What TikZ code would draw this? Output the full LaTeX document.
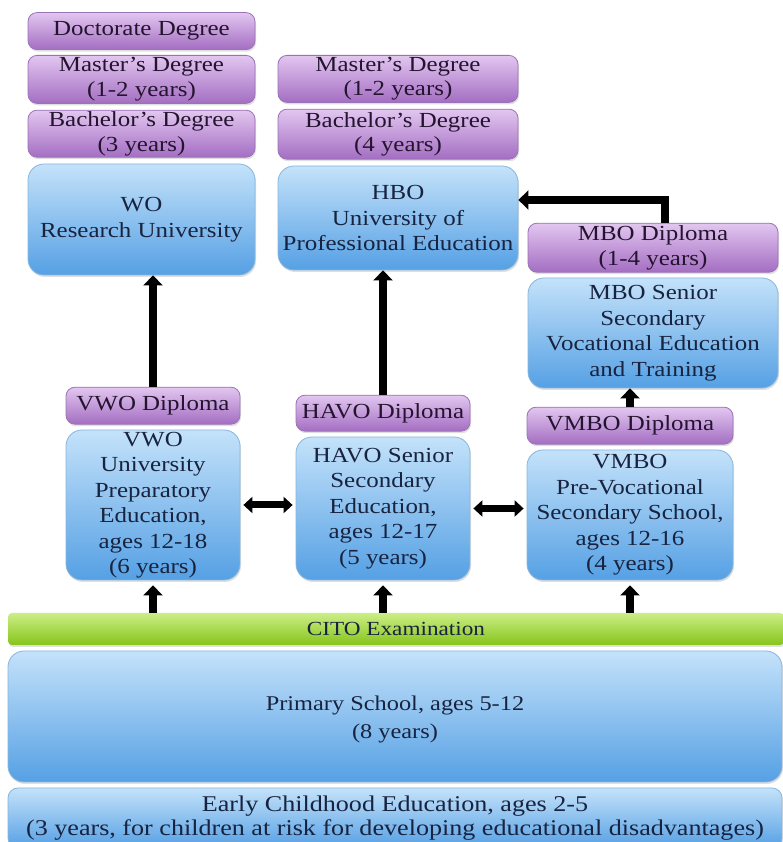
\documentclass[tikz,border=0pt]{standalone}
\usepackage{fontspec}
\setmainfont[FakeStretch=1.16]{Liberation Serif}
\usetikzlibrary{arrows.meta,positioning,shadows}

\definecolor{blueTop}{HTML}{C4E2FA}
\definecolor{blueBot}{HTML}{55A0E4}
\definecolor{blueLine}{HTML}{86B6DE}
\definecolor{purpTop}{HTML}{E2C6F0}
\definecolor{purpBot}{HTML}{A46EC2}
\definecolor{purpLine}{HTML}{9A72B6}
\definecolor{greenTop}{HTML}{CCEE86}
\definecolor{greenBot}{HTML}{86C41A}
\definecolor{inkBlue}{HTML}{18233F}
\definecolor{inkPurp}{HTML}{24142F}

\begin{document}
\begin{tikzpicture}[x=1pt,y=1pt,
    box/.style={align=center,inner sep=0pt,font=\fontsize{21.5}{25.5}\selectfont,
        drop shadow={opacity=0.25,shadow xshift=1pt,shadow yshift=-2pt}},
    school/.style={box,rounded corners=16pt,draw=blueLine,line width=0.8pt,
        top color=blueTop,bottom color=blueBot,text=inkBlue},
    diploma/.style={box,rounded corners=9pt,draw=purpLine,line width=0.8pt,
        top color=purpTop,bottom color=purpBot,text=inkPurp,
        font=\fontsize{21.5}{24.5}\selectfont},
    exam/.style={box,rounded corners=4pt,draw=none,
        top color=greenTop,bottom color=greenBot,text=inkBlue},
    bigarrow/.style={line width=8pt,-{Triangle[width=19pt,length=10pt]}},
    twoarrow/.style={line width=7pt,{Triangle[width=16pt,length=9pt]}-{Triangle[width=16pt,length=9pt]}}]

\useasboundingbox (0,0) rectangle (782,842);
\fill[white] (0,0) rectangle (782,842);

% research university column
\node[school,minimum width=227pt,minimum height=111pt] (wo) at (141.5,622.5) {WO\\Research University};
\node[diploma,minimum width=227pt,minimum height=47pt,above=6pt of wo] (bachwo) {Bachelor's Degree\\(3 years)};
\node[diploma,minimum width=227pt,minimum height=48pt,above=6pt of bachwo] (mastwo) {Master's Degree\\(1-2 years)};
\node[diploma,minimum width=227pt,minimum height=37pt,above=5pt of mastwo] (doc) {Doctorate Degree};

% professional university column
\node[school,minimum width=240pt,minimum height=104pt] (hbo) at (398,624) {HBO\\University of\\Professional Education};
\node[diploma,minimum width=240pt,minimum height=50pt,above=6pt of hbo] (bachhbo) {Bachelor's Degree\\(4 years)};
\node[diploma,minimum width=240pt,minimum height=47pt,above=6pt of bachhbo] (masthbo) {Master's Degree\\(1-2 years)};

% vocational column
\node[school,minimum width=250pt,minimum height=110pt] (mbo) at (653,509) {MBO Senior\\Secondary\\Vocational Education\\and Training};
\node[diploma,minimum width=250pt,minimum height=49pt,above=5pt of mbo] (mbodip) {MBO Diploma\\(1-4 years)};

% secondary schools
\node[school,minimum width=174pt,minimum height=150pt] (vwo) at (153,337) {VWO\\University\\Preparatory\\Education,\\ages 12-18\\(6 years)};
\node[diploma,minimum width=174pt,minimum height=37pt,above=5pt of vwo] (vwodip) {VWO Diploma};
\node[school,minimum width=174pt,minimum height=143pt] (havo) at (383,333.5) {HAVO Senior\\Secondary\\Education,\\ages 12-17\\(5 years)};
\node[diploma,minimum width=174pt,minimum height=36pt,above=5pt of havo] (havodip) {HAVO Diploma};
\node[school,minimum width=206pt,minimum height=130pt] (vmbo) at (630,327) {VMBO\\Pre-Vocational\\Secondary School,\\ages 12-16\\(4 years)};
\node[diploma,minimum width=206pt,minimum height=37pt,above=5pt of vmbo] (vmbodip) {VMBO Diploma};

% base
\node[exam,minimum width=776pt,minimum height=32pt,font=\fontsize{20}{22}\selectfont] (cito) at (396,213) {CITO Examination};
\node[school,minimum width=774pt,minimum height=131pt,font=\fontsize{21}{28}\selectfont] (primary) at (395,125.5) {\\[-8pt]Primary School, ages 5-12\\(8 years)};
\node[school,rounded corners=10pt,minimum width=774pt,minimum height=60pt,font=\fontsize{22.5}{24}\selectfont] (early) at (395,24) {Early Childhood Education, ages 2-5\\(3 years, for children at risk for developing educational disadvantages)};

% connectors
\draw[bigarrow] (vwodip.north) -- (vwodip.north |- wo.south);
\draw[bigarrow] (havodip.north) -- (havodip.north |- hbo.south);
\draw[bigarrow] ([xshift=12pt]mbodip.north) |- ([yshift=18pt]hbo.east);
\draw[bigarrow] (vmbodip.north) -- (vmbodip.north |- mbo.south);
\draw[twoarrow] ([xshift=3pt]vwo.east) -- ([xshift=-3pt]vwo.east -| havo.west);
\draw[twoarrow] ([xshift=3pt]havo.east) -- ([xshift=-3pt]havo.east -| vmbo.west);
\draw[bigarrow] (cito.north -| vwo.south) -- ([yshift=-5pt]vwo.south);
\draw[bigarrow] (cito.north -| havo.south) -- ([yshift=-5pt]havo.south);
\draw[bigarrow] (cito.north -| vmbo.south) -- ([yshift=-5pt]vmbo.south);
\end{tikzpicture}
\end{document}
